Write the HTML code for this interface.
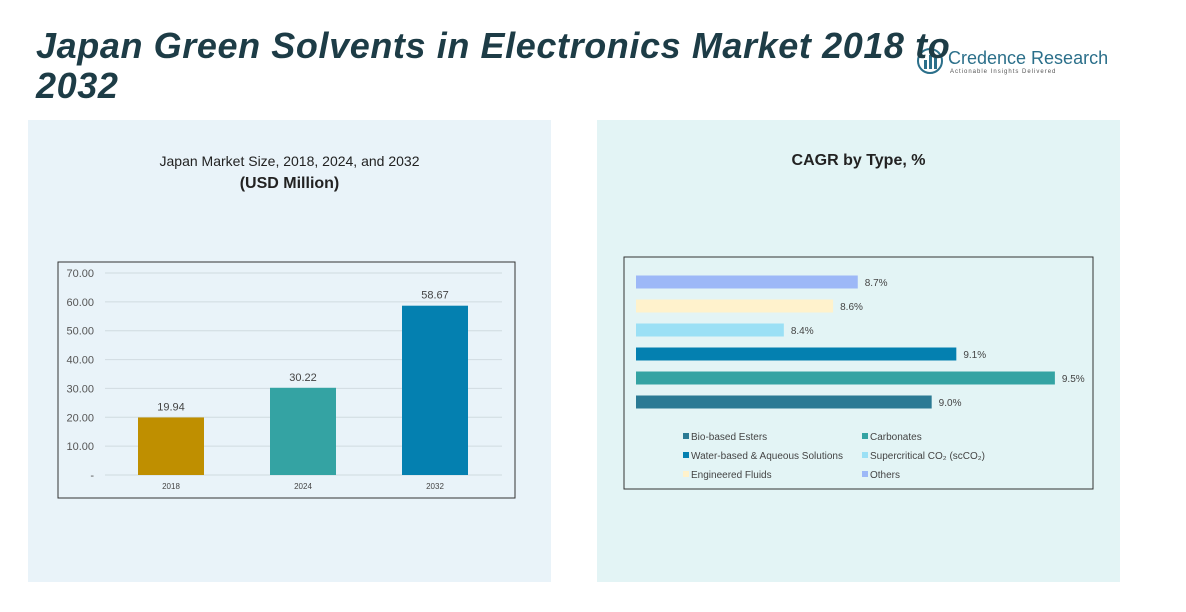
<!DOCTYPE html>
<html><head><meta charset="utf-8"><style>
body{margin:0;width:1186px;height:612px;background:#fff;overflow:hidden;font-family:"Liberation Sans",sans-serif;position:relative}
.p{position:absolute}
</style></head><body>
<div class="p" style="left:28px;top:120px;width:523px;height:462px;background:#e9f3f9"></div>
<div class="p" style="left:597px;top:120px;width:523px;height:462px;background:#e3f4f5"></div>
<div class="p" style="left:916px;top:46px;width:200px">
<svg width="28" height="30" style="position:absolute;left:0;top:0"><circle cx="14" cy="15" r="12" fill="none" stroke="#2b6f8a" stroke-width="2"/><rect x="8" y="14" width="3" height="9" fill="#2b6f8a"/><rect x="13" y="9" width="3" height="14" fill="#2b6f8a"/><rect x="18" y="12" width="3" height="11" fill="#2b6f8a"/></svg>
<div class="p" style="left:32px;top:2px;font-size:18px;color:#2b6f8a;white-space:nowrap">Credence Research</div>
<div class="p" style="left:34px;top:23px;font-size:6px;color:#555;white-space:nowrap;letter-spacing:1px">Actionable Insights Delivered</div></div>
<div class="p" style="left:36px;top:26px;width:940px;font-size:36px;letter-spacing:0.6px;font-weight:bold;font-style:italic;color:#1d3c46;line-height:40px">Japan Green Solvents in Electronics Market 2018 to 2032</div>
<div class="p" style="left:28px;top:150px;width:523px;text-align:center;font-size:14px;color:#222;line-height:22px">Japan Market Size, 2018, 2024, and 2032<br><b style="font-size:16px">(USD Million)</b></div>
<div class="p" style="left:597px;top:152px;width:523px;text-align:center;font-size:16px;font-weight:bold;color:#222">CAGR by Type, %</div>
<svg class="p" style="left:0;top:0" width="1186" height="612" id="svg"></svg>
<script>
const years=["2018","2024","2032"];
const sizes=[19.94,30.22,58.67];
const sizeLabels=["19.94","30.22","58.67"];
const yTicks=[0,10,20,30,40,50,60,70];
const yTickLabels=["-","10.00","20.00","30.00","40.00","50.00","60.00","70.00"];
const types=["Bio-based Esters","Carbonates","Water-based & Aqueous Solutions","Supercritical CO₂ (scCO₂)","Engineered Fluids","Others"];
const cagr=[9.0,9.5,9.1,8.4,8.6,8.7];
const cagrLabels=["9.0%","9.5%","9.1%","8.4%","8.6%","8.7%"];
const barColors=["#bf8f00","#34a3a3","#0480b0"];
const typeColors=["#2b7a94","#34a3a3","#0480b0","#9be0f5","#fff2cc","#9db8f7"];
const NS="http://www.w3.org/2000/svg",svg=document.getElementById('svg');
function mk(t,a,txt){const e=document.createElementNS(NS,t);for(const k in a)e.setAttribute(k,a[k]);if(txt!==undefined)e.textContent=txt;svg.appendChild(e);return e;}
let f=mk('rect',{x:58,y:262,width:457,height:236,fill:'none',stroke:'#333','stroke-width':1});

const y=v=>475-v*(202/70);
const xc=i=>171+i*132;
yTicks.forEach((t,i)=>{
 let g=mk('line',{x1:105,x2:502,y1:y(t),y2:y(t),stroke:'#d0dbe0'});
 
 let l=mk('text',{x:94,y:y(t)+4,'text-anchor':'end','font-size':11,fill:'#555'},yTickLabels[i]);
 
});
sizes.forEach((v,i)=>{
 let b=mk('rect',{x:xc(i)-33,y:y(v),width:66,height:475-y(v),fill:barColors[i]});
 
 let t=mk('text',{x:xc(i),y:y(v)-7,'text-anchor':'middle','font-size':11,fill:'#444'},sizeLabels[i]);
 
 let c=mk('text',{x:xc(i),y:489,'text-anchor':'middle','font-size':8,fill:'#444'},years[i]);
 
});
f=mk('rect',{x:624,y:257,width:469,height:232,fill:'none',stroke:'#333','stroke-width':1});

const hx=v=>636+(v-7.8)*246.4;
cagr.forEach((v,i)=>{
 const cy=402-i*24;
 let b=mk('rect',{x:636,y:cy-6.5,width:hx(v)-636,height:13,fill:typeColors[i]});
 
 let t=mk('text',{x:hx(v)+7,y:cy+4,'font-size':10,fill:'#444'},cagrLabels[i]);
 
 const lx=683+(i%2)*179,ly=437+Math.floor(i/2)*19;
 let s=mk('rect',{x:lx,y:ly-4,width:6,height:6,fill:typeColors[i]});
 
 let lt=mk('text',{x:lx+8,y:ly+3,'font-size':10,fill:'#444'},types[i]);
 
});
</script>
</body></html>
